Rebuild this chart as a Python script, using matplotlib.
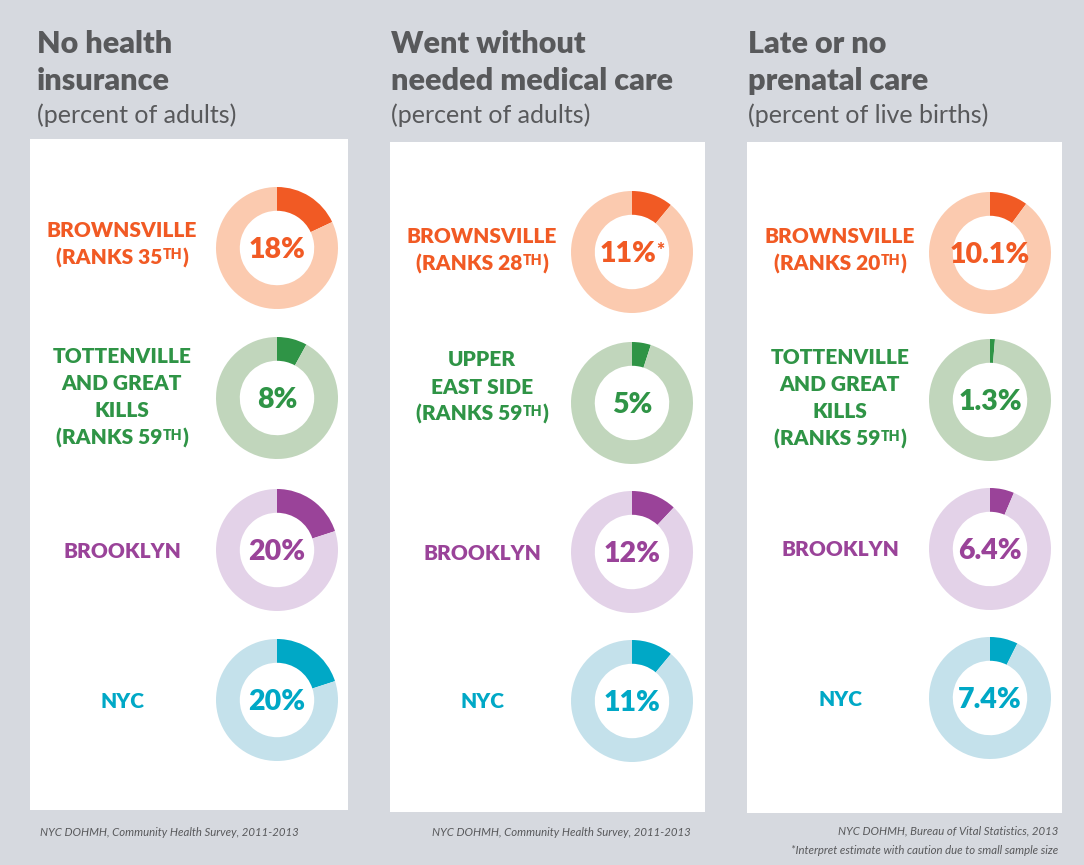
import matplotlib.pyplot as plt
import matplotlib.patches as mpatches

plt.rcParams['font.family'] = ['Lato', 'DejaVu Sans']

# ---- Data -------------------------------------------------------------------
titles = [['No health', 'insurance'],
          ['Went without', 'needed medical care'],
          ['Late or no', 'prenatal care']]
subtitles = ['(percent of adults)', '(percent of adults)', '(percent of live births)']

# each label line is (text, superscript, tail)
labels = [
    [[('BROWNSVILLE', '', ''), ('(RANKS 35', 'TH', ')')],
     [('TOTTENVILLE', '', ''), ('AND GREAT', '', ''), ('KILLS', '', ''), ('(RANKS 59', 'TH', ')')],
     [('BROOKLYN', '', '')],
     [('NYC', '', '')]],
    [[('BROWNSVILLE', '', ''), ('(RANKS 28', 'TH', ')')],
     [('UPPER', '', ''), ('EAST SIDE', '', ''), ('(RANKS 59', 'TH', ')')],
     [('BROOKLYN', '', '')],
     [('NYC', '', '')]],
    [[('BROWNSVILLE', '', ''), ('(RANKS 20', 'TH', ')')],
     [('TOTTENVILLE', '', ''), ('AND GREAT', '', ''), ('KILLS', '', ''), ('(RANKS 59', 'TH', ')')],
     [('BROOKLYN', '', '')],
     [('NYC', '', '')]],
]
values = [
    [18, 8, 20, 20],
    [11, 5, 12, 11],
    [10.1, 1.3, 6.4, 7.4],
]
value_text = [
    [('18%', '', ''), ('8%', '', ''), ('20%', '', ''), ('20%', '', '')],
    [('11%', '*', ''), ('5%', '', ''), ('12%', '', ''), ('11%', '', '')],
    [('10.1%', '', ''), ('1.3%', '', ''), ('6.4%', '', ''), ('7.4%', '', '')],
]
sources = [['NYC DOHMH, Community Health Survey, 2011-2013'],
           ['NYC DOHMH, Community Health Survey, 2011-2013'],
           ['NYC DOHMH, Bureau of Vital Statistics, 2013',
            '*Interpret estimate with caution due to small sample size']]

dark = ['#f15a24', '#2f9446', '#9a4399', '#00a8c6']
light = ['#fbcaaf', '#c1d6bc', '#e3d2e8', '#c4e1eb']

# ---- Layout (pixels) --------------------------------------------------------
W, H = 1084, 865
bg = '#d6d9df'
title_col = '#58595b'
panels = [(30, 139, 348, 810), (390, 142, 705, 812), (747, 142, 1062, 813)]
title_x = [37, 391, 748]
donut_x = [277, 632, 990]
donut_y = [[248, 398, 550, 700], [252, 403, 552, 701], [253, 400, 549, 698]]
label_x = [122, 482, 840]
label_y = [[243, 396, 551, 700], [249, 386, 552, 701], [249, 397, 549, 699]]
R = 61
LINE = 27.3

fig = plt.figure(figsize=(W / 100, H / 100), dpi=100, facecolor=bg)
ax = fig.add_axes([0, 0, 1, 1])
ax.set_xlim(0, W)
ax.set_ylim(0, H)
ax.set_aspect('equal')
ax.axis('off')
renderer = fig.canvas.get_renderer()


def Y(y):
    return H - y


def draw_line(xc, yc, parts, size, color, weight='heavy'):
    """Centred line of text with an optional small raised part (e.g. 'TH')."""
    main, sup, tail = parts
    cap = 0.72 * size * 100 / 72
    base = Y(yc) - cap / 2
    sup_size = size * 0.68
    sup_cap = 0.72 * sup_size * 100 / 72
    kw = dict(color=color, fontweight=weight, ha='left', va='baseline')
    t1 = ax.text(0, base, main, fontsize=size, **kw)
    t2 = ax.text(0, base + cap - sup_cap, sup, fontsize=sup_size, **kw)
    t3 = ax.text(0, base, tail, fontsize=size, **kw)
    ws = [t.get_window_extent(renderer).width if t.get_text() else 0
          for t in (t1, t2, t3)]
    x = xc - sum(ws) / 2
    for t, w in zip((t1, t2, t3), ws):
        t.set_x(x)
        x += w


for c in range(3):
    x0, y0, x1, y1 = panels[c]
    ax.add_patch(mpatches.Rectangle((x0, Y(y1)), x1 - x0, y1 - y0,
                                    facecolor='white', edgecolor='none'))
    ax.text(title_x[c], Y(44), titles[c][0], fontsize=22, fontweight='heavy',
            color=title_col, ha='left', va='center')
    ax.text(title_x[c], Y(81), titles[c][1], fontsize=22, fontweight='heavy',
            color=title_col, ha='left', va='center')
    ax.text(title_x[c], Y(115), subtitles[c], fontsize=18,
            color=title_col, ha='left', va='center')

    for r in range(4):
        v = values[c][r]
        ax.pie([v, 100 - v], colors=[dark[r], light[r]], startangle=90,
               counterclock=False, radius=R,
               center=(donut_x[c], Y(donut_y[c][r])),
               wedgeprops=dict(width=R * 0.39, edgecolor='none'), frame=True)
        draw_line(donut_x[c], donut_y[c][r], value_text[c][r], 20.5, dark[r])
        lines = labels[c][r]
        n = len(lines)
        for i, parts in enumerate(lines):
            yc = label_y[c][r] + (i - (n - 1) / 2) * LINE
            draw_line(label_x[c], yc, parts, 15, dark[r])

    foot = dict(fontsize=8.2, style='italic', color=title_col, va='center')
    if c < 2:
        sx = [169, 561][c]
        ax.text(sx, Y(833), sources[c][0], ha='center', **foot)
    else:
        ax.text(1058, Y(831), sources[c][0], ha='right', **foot)
        ax.text(1058, Y(851), sources[c][1], ha='right', **foot)

ax.set_xlim(0, W)
ax.set_ylim(0, H)
ax.axis('off')

fig.savefig('out.png', dpi=100, facecolor=bg)
